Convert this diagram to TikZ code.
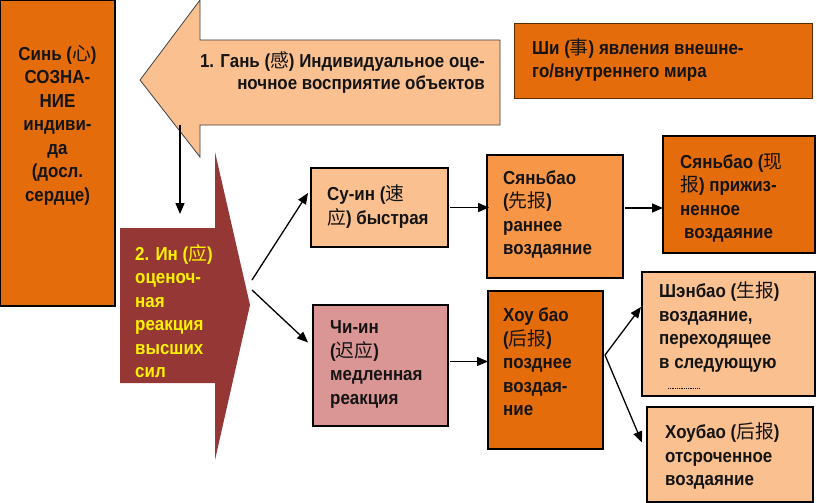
\documentclass[tikz,border=0pt]{standalone}
\usepackage{fontspec}
\setmainfont{Liberation Sans}[FakeStretch=0.9]
\newfontfamily\cjk{Noto Sans CJK SC}
\newcommand\zh[1]{{\cjk\mdseries #1}}
\usetikzlibrary{arrows.meta}
\definecolor{dkorange}{HTML}{E46C0A}
\definecolor{midorange}{HTML}{F79646}
\definecolor{peach}{HTML}{FAC090}
\definecolor{rosy}{HTML}{D99694}
\definecolor{maroon}{HTML}{953735}
\definecolor{ink}{HTML}{141414}
\begin{document}
\begin{tikzpicture}[x=1pt,y=-1pt,
  box/.style={draw=black, line width=1.3pt, inner sep=0pt, outer sep=0pt},
  txt/.style={font=\fontsize{18.8}{23.5}\selectfont\bfseries, text=ink, align=left, inner sep=0pt, anchor=west},
  conn/.style={line width=1.3pt, -{Triangle[length=11pt,width=9pt]}}
]
\useasboundingbox (0,0) rectangle (817,503);
% big arrow 1
\path[fill=peach, draw=black!75, line width=0.8pt]
  (140,80) -- (200,0) -- (200,40) -- (500,40) -- (500,125) -- (200,125) -- (200,157) -- cycle;
% big arrow 2
\path[fill=maroon]
  (120,228) -- (215,228) -- (215,152) -- (250,305) -- (215,460) -- (215,383) -- (120,383) -- cycle;
\coordinate (a1b) at (180,125);
\coordinate (a2t) at (180,214);
\coordinate (a2u) at (252,280);
\coordinate (a2d) at (252,290);
% boxes
\node[box, fill=dkorange, minimum width=115pt, minimum height=306pt] (sin) at (57.5,153) {};
\node[box, fill=dkorange, draw=black!60!dkorange, line width=0.8pt, minimum width=298pt, minimum height=75pt] (shi) at (663,60.5) {};
\node[box, fill=peach, minimum width=137pt, minimum height=79pt] (suin) at (379.5,207.5) {};
\node[box, fill=midorange, minimum width=136pt, minimum height=123pt] (syanA) at (555,216.5) {};
\node[box, fill=dkorange, minimum width=152pt, minimum height=117pt] (syanB) at (739,194.5) {};
\node[box, fill=rosy, minimum width=135pt, minimum height=121pt] (chiin) at (380.5,365.5) {};
\node[box, fill=dkorange, minimum width=115pt, minimum height=158pt] (houA) at (545.5,370) {};
\node[box, fill=peach, minimum width=173pt, minimum height=124pt] (shen) at (728.5,334) {};
\node[box, fill=peach, minimum width=166pt, minimum height=95pt] (houB) at (730,454.5) {};
% texts
\node[txt, align=center, anchor=center] (sinT) at (57.5,125) {Синь (\zh{心})\\СОЗНА-\\НИЕ\\индиви-\\да\\(досл.\\сердце)};
\node[txt, align=right, anchor=east, font=\fontsize{18.8}{22}\selectfont\bfseries] (a1T) at (485,72.5) {1. Гань (\zh{感}) Индивидуальное оце-\\ночное восприятие объектов};
\node[txt] (shiT) at (532,60) {Ши (\zh{事}) явления внешне-\\го/внутреннего мира};
\node[txt, text=yellow] (a2T) at (135,311) {2. Ин (\zh{应})\\оценоч-\\ная\\реакция\\высших\\сил};
\node[txt] (suinT) at (327,206.5) {Су-ин (\zh{速}\\\zh{应}) быстрая};
\node[txt] (syanAT) at (503,214.5) {Сяньбао\\(\zh{先报})\\раннее\\воздаяние};
\node[txt] (syanBT) at (680,198) {Сяньбао (\zh{现}\\\zh{报}) прижиз-\\ненное\\\hspace*{4pt}воздаяние};
\node[txt] (chiinT) at (330,364.5) {Чи-ин\\(\zh{迟应})\\медленная\\реакция};
\node[txt] (houAT) at (503,362) {Хоу бао\\(\zh{后报})\\позднее\\воздая-\\ние};
\node[txt] (shenT) at (659,327) {Шэнбао (\zh{生报})\\воздаяние,\\переходящее\\в следующую};
\draw[densely dotted, ink, line width=0.8pt] (668,388) -- (700,388);
\node[txt] (houBT) at (665,456) {Хоубао (\zh{后报})\\отсроченное\\воздаяние};
% connectors
\draw[conn] (a1b) -- (a2t);
\draw[conn] (a2u) -- ([xshift=-3pt,yshift=14.5pt]suin.west);
\draw[conn] (a2d) -- ([xshift=-5pt,yshift=23pt]chiin.west);
\draw[conn] ([xshift=2pt]suin.east) -- ([xshift=2pt]suin.east -| syanA.west);
\draw[conn] ([xshift=2pt,yshift=8.5pt]syanA.east) -- ([yshift=8.5pt]syanA.east -| syanB.west);
\draw[conn] ([xshift=2pt,yshift=4pt]chiin.east) -- ([yshift=4pt]chiin.east -| houA.west);
\draw[conn] ([xshift=2pt,yshift=15pt]houA.east) -- ([xshift=-1pt,yshift=27pt]shen.west);
\draw[conn] ([xshift=2pt,yshift=15pt]houA.east) -- ([xshift=-5pt,yshift=12pt]houB.west);
\end{tikzpicture}
\end{document}
